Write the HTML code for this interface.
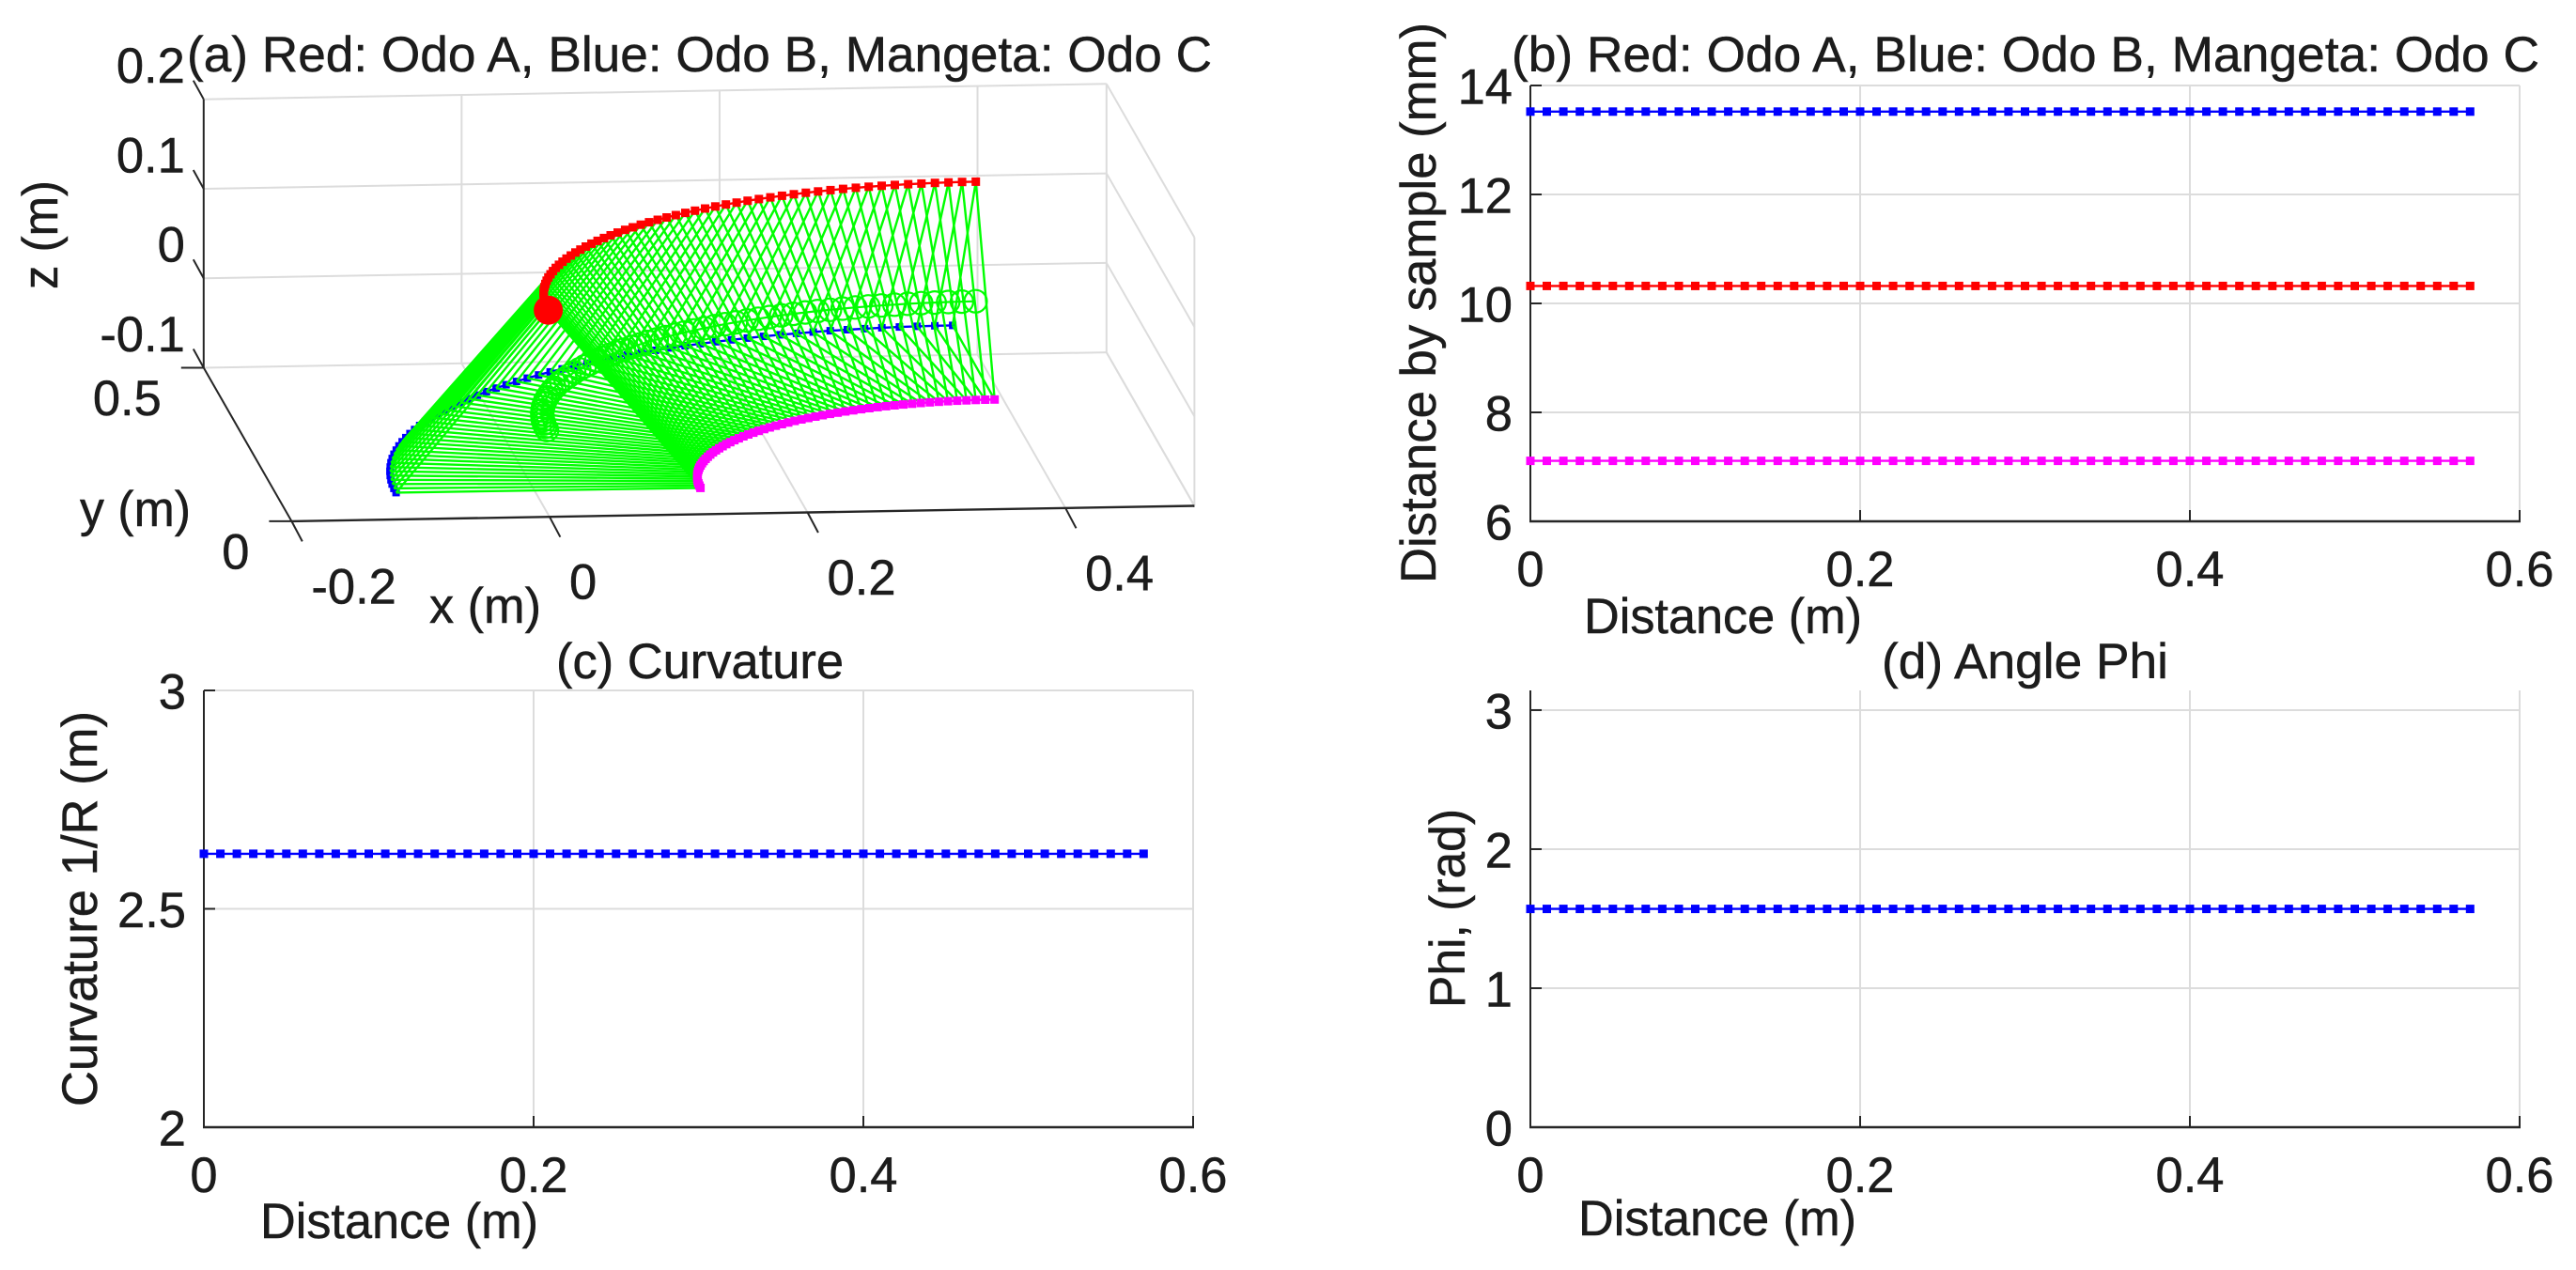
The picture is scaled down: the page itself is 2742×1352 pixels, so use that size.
<!DOCTYPE html>
<html lang="en">
<head>
<meta charset="utf-8">
<title>Odometer trajectory figure</title>
<style>
html,body{margin:0;padding:0;background:#fff;width:2742px;height:1352px;overflow:hidden}
svg{display:block}
text{font-family:"Liberation Sans",Arial,sans-serif;font-size:52.5px;fill:#1c1c1c;stroke:#1c1c1c;stroke-width:0.5px}
</style>
</head>
<body>
<svg id="figure" xmlns="http://www.w3.org/2000/svg" width="2742" height="1352" viewBox="0 0 2742 1352">
  <rect x="0" y="0" width="2742" height="1352" fill="#fff"/>
  <g id="panel-a"></g>
  <g id="panel-b"></g>
  <g id="panel-c"></g>
  <g id="panel-d"></g>
  <g>
    <text x="199" y="76" textLength="1091" lengthAdjust="spacingAndGlyphs">(a) Red: Odo A, Blue: Odo B, Mangeta: Odo C</text>
    <text x="457" y="663" textLength="119" lengthAdjust="spacingAndGlyphs">x (m)</text>
    <text x="85" y="560" textLength="118" lengthAdjust="spacingAndGlyphs">y (m)</text>
    <text transform="translate(61,308) rotate(-90)" textLength="116" lengthAdjust="spacingAndGlyphs">z (m)</text>
    <text x="1609" y="76" textLength="1094" lengthAdjust="spacingAndGlyphs">(b) Red: Odo A, Blue: Odo B, Mangeta: Odo C</text>
    <text x="1686" y="674" textLength="296" lengthAdjust="spacingAndGlyphs">Distance (m)</text>
    <text transform="translate(1528,621) rotate(-90)" textLength="597" lengthAdjust="spacingAndGlyphs">Distance by sample (mm)</text>
    <text x="592" y="722" textLength="306" lengthAdjust="spacingAndGlyphs">(c) Curvature</text>
    <text x="277" y="1318" textLength="296" lengthAdjust="spacingAndGlyphs">Distance (m)</text>
    <text transform="translate(103,1178) rotate(-90)" textLength="421" lengthAdjust="spacingAndGlyphs">Curvature 1/R (m)</text>
    <text x="2003" y="722" textLength="305" lengthAdjust="spacingAndGlyphs">(d) Angle Phi</text>
    <text x="1680" y="1315" textLength="296" lengthAdjust="spacingAndGlyphs">Distance (m)</text>
    <text transform="translate(1559,1073) rotate(-90)" textLength="212" lengthAdjust="spacingAndGlyphs">Phi, (rad)</text>
  </g>
</svg>
<script>
/* ---------- chart data ---------- */
const distance = [0,0.01,0.02,0.03,0.04,0.05,0.06,0.07,0.08,0.09,0.1,0.11,0.12,0.13,0.14,0.15,0.16,0.17,0.18,0.19,0.2,0.21,0.22,0.23,0.24,0.25,0.26,0.27,0.28,0.29,0.3,0.31,0.32,0.33,0.34,0.35,0.36,0.37,0.38,0.39,0.4,0.41,0.42,0.43,0.44,0.45,0.46,0.47,0.48,0.49,0.5,0.51,0.52,0.53,0.54,0.55,0.56,0.57];
const odoABySample = [10.32,10.32,10.32,10.32,10.32,10.32,10.32,10.32,10.32,10.32,10.32,10.32,10.32,10.32,10.32,10.32,10.32,10.32,10.32,10.32,10.32,10.32,10.32,10.32,10.32,10.32,10.32,10.32,10.32,10.32,10.32,10.32,10.32,10.32,10.32,10.32,10.32,10.32,10.32,10.32,10.32,10.32,10.32,10.32,10.32,10.32,10.32,10.32,10.32,10.32,10.32,10.32,10.32,10.32,10.32,10.32,10.32,10.32];
const odoBBySample = [13.52,13.52,13.52,13.52,13.52,13.52,13.52,13.52,13.52,13.52,13.52,13.52,13.52,13.52,13.52,13.52,13.52,13.52,13.52,13.52,13.52,13.52,13.52,13.52,13.52,13.52,13.52,13.52,13.52,13.52,13.52,13.52,13.52,13.52,13.52,13.52,13.52,13.52,13.52,13.52,13.52,13.52,13.52,13.52,13.52,13.52,13.52,13.52,13.52,13.52,13.52,13.52,13.52,13.52,13.52,13.52,13.52,13.52];
const odoCBySample = [7.11,7.11,7.11,7.11,7.11,7.11,7.11,7.11,7.11,7.11,7.11,7.11,7.11,7.11,7.11,7.11,7.11,7.11,7.11,7.11,7.11,7.11,7.11,7.11,7.11,7.11,7.11,7.11,7.11,7.11,7.11,7.11,7.11,7.11,7.11,7.11,7.11,7.11,7.11,7.11,7.11,7.11,7.11,7.11,7.11,7.11,7.11,7.11,7.11,7.11,7.11,7.11,7.11,7.11,7.11,7.11,7.11,7.11];
const curvature = [2.626,2.626,2.626,2.626,2.626,2.626,2.626,2.626,2.626,2.626,2.626,2.626,2.626,2.626,2.626,2.626,2.626,2.626,2.626,2.626,2.626,2.626,2.626,2.626,2.626,2.626,2.626,2.626,2.626,2.626,2.626,2.626,2.626,2.626,2.626,2.626,2.626,2.626,2.626,2.626,2.626,2.626,2.626,2.626,2.626,2.626,2.626,2.626,2.626,2.626,2.626,2.626,2.626,2.626,2.626,2.626,2.626,2.626];
const phi = [1.57,1.57,1.57,1.57,1.57,1.57,1.57,1.57,1.57,1.57,1.57,1.57,1.57,1.57,1.57,1.57,1.57,1.57,1.57,1.57,1.57,1.57,1.57,1.57,1.57,1.57,1.57,1.57,1.57,1.57,1.57,1.57,1.57,1.57,1.57,1.57,1.57,1.57,1.57,1.57,1.57,1.57,1.57,1.57,1.57,1.57,1.57,1.57,1.57,1.57,1.57,1.57,1.57,1.57,1.57,1.57,1.57,1.57];
const xTicks2d = [0,0.2,0.4,0.6];
const xTickLabels2d = ["0","0.2","0.4","0.6"];
const yTicksB = [6,8,10,12,14];
const yTickLabelsB = ["6","8","10","12","14"];
const yTicksC = [2,2.5,3];
const yTickLabelsC = ["2","2.5","3"];
const yTicksD = [0,1,2,3];
const yTickLabelsD = ["0","1","2","3"];

/* 3D trajectory: arc angle of each sample, and each track's centre / radius / height */
const arcAngle = [0,0.0273,0.0546,0.0818,0.1091,0.1364,0.1637,0.191,0.2182,0.2455,0.2728,0.3001,0.3274,0.3546,0.3819,0.4092,0.4365,0.4638,0.491,0.5183,0.5456,0.5729,0.6002,0.6274,0.6547,0.682,0.7093,0.7366,0.7638,0.7911,0.8184,0.8457,0.873,0.9002,0.9275,0.9548,0.9821,1.0094,1.0366,1.0639,1.0912,1.1185,1.1458,1.173,1.2003,1.2276,1.2549,1.2822,1.3094,1.3367,1.364,1.3913,1.4186,1.4458,1.4731,1.5004,1.5277,1.555];
const arcCentreX = 0.39;
const odoCCentreX = 0.386;
const odoARadius = 0.391;
const odoBRadius = 0.509;
const odoCRadius = 0.269;
const centreRadius = 0.392;
const odoAHeight = 0.131;
const odoBHeight = -0.07;
const odoCHeight = -0.0705;
const centreHeight = -0.003;
const xTicks3d = [-0.2,0,0.2,0.4];
const xTickLabels3d = ["-0.2","0","0.2","0.4"];
const yTicks3d = [0,0.5];
const yTickLabels3d = ["0","0.5"];
const zTicks3d = [-0.1,0,0.1,0.2];
const zTickLabels3d = ["-0.1","0","0.1","0.2"];

/* ---------- helpers ---------- */
const NS = "http://www.w3.org/2000/svg";
const GRID = "#dcdcdc", AXIS = "#262626";
function mk(parent, tag) { const e = document.createElementNS(NS, tag); parent.appendChild(e); return e; }
function seg(parent, x1, y1, x2, y2, color, w) {
  const l = mk(parent, "line");
  l.setAttribute("x1", x1); l.setAttribute("y1", y1);
  l.setAttribute("x2", x2); l.setAttribute("y2", y2);
  l.setAttribute("stroke", color); l.setAttribute("stroke-width", w);
  return l;
}
function lbl(parent, x, y, anchor, str) {
  const t = mk(parent, "text");
  t.setAttribute("x", x); t.setAttribute("y", y);
  t.setAttribute("text-anchor", anchor);
  t.textContent = str;
  return t;
}
function poly(parent, pts, color, w) {
  const p = mk(parent, "polyline");
  p.setAttribute("points", pts.map(q => q[0].toFixed(1) + "," + q[1].toFixed(1)).join(" "));
  p.setAttribute("fill", "none");
  p.setAttribute("stroke", color); p.setAttribute("stroke-width", w);
  return p;
}
function square(parent, x, y, s, color) {
  const r = mk(parent, "rect");
  r.setAttribute("x", (x - s / 2).toFixed(1)); r.setAttribute("y", (y - s / 2).toFixed(1));
  r.setAttribute("width", s); r.setAttribute("height", s);
  r.setAttribute("fill", color);
  return r;
}

/* ---------- 2D panels ---------- */
function drawPanel(group, L, R, T, B, yMin, yMax, yTicks, yLabels, series, gridTop) {
  const sx = v => L + (v / 0.6) * (R - L);
  const sy = v => B - ((v - yMin) / (yMax - yMin)) * (B - T);
  if (gridTop) {
    const g = seg(group, L, T, R, T, GRID, 2);
    
    
  }
  yTicks.forEach((v, i) => {
    if (i > 0 && v < yMax) {
      const g = seg(group, L, sy(v), R, sy(v), GRID, 2);
      
      
    }
    const t = seg(group, L, sy(v), L + 12, sy(v), AXIS, 2);
    
    
    const s = lbl(group, L - 19, sy(v) + 19.5, "end", yLabels[i]);
    
    
  });
  xTicks2d.forEach((v, i) => {
    if (i > 0) {
      const g = seg(group, sx(v), T, sx(v), B, GRID, 2);
      
      
      const t = seg(group, sx(v), B, sx(v), B - 12, AXIS, 2);
      
      
    }
    const s = lbl(group, sx(v), B + 69, "middle", xTickLabels2d[i]);
    
    
  });
  const ls = seg(group, L, T, L, B + 1, AXIS, 2);
  
  
  const bs = seg(group, L - 1, B, R + 1, B, AXIS, 2.6);
  
  
  series.forEach(se => {
    const pts = distance.map((d, i) => [sx(d), sy(se.values[i])]);
    const line = poly(group, pts, se.color, 2.4);
    
    
    pts.forEach(q => {
      const m = square(group, q[0], q[1], 9, se.color);
      
      
    });
  });
}
drawPanel(document.getElementById("panel-b"), 1629, 2682, 91, 555, 6, 14, yTicksB, yTickLabelsB, [
  {name: "odo-b-sample-distance", color: "#0000ff", values: odoBBySample},
  {name: "odo-a-sample-distance", color: "#ff0000", values: odoABySample},
  {name: "odo-c-sample-distance", color: "#ff00ff", values: odoCBySample}
], true);
drawPanel(document.getElementById("panel-c"), 217, 1270, 735, 1200, 2, 3, yTicksC, yTickLabelsC, [
  {name: "curvature", color: "#0000ff", values: curvature}
], true);
drawPanel(document.getElementById("panel-d"), 1629, 2682, 735, 1200, 0, 3.1416, yTicksD, yTickLabelsD, [
  {name: "phi", color: "#0000ff", values: phi}
], false);

/* ---------- 3D panel ---------- */
const pa = document.getElementById("panel-a");
const projX = (x, y) => 310.4 + ((x + 0.2) / 0.7) * 961 - (y / 0.5) * 93.6;
const projY = (x, y, z) => 554.9 - ((x + 0.2) / 0.7) * 16.4 - (y / 0.5) * 163.4 - ((z + 0.1) / 0.3) * 285.8;
const P = (x, y, z) => [projX(x, y), projY(x, y, z)];
function wall(a, b, color, w, name) {
  const p = P(a[0], a[1], a[2]), q = P(b[0], b[1], b[2]);
  const l = seg(pa, p[0], p[1], q[0], q[1], color, w);
  
  
}
/* box edges and grids */
zTicks3d.forEach(z => {
  wall([-0.2, 0.5, z], [0.5, 0.5, z], GRID, 2, 'back-wall-z-gridline');
  wall([0.5, 0.5, z], [0.5, 0, z], GRID, 2, 'side-wall-z-gridline');
});
xTicks3d.forEach(x => {
  if (x > -0.2) {
    wall([x, 0.5, -0.1], [x, 0.5, 0.2], GRID, 2, 'back-wall-x-gridline');
    wall([x, 0.5, -0.1], [x, 0, -0.1], GRID, 2, 'floor-x-gridline');
  }
});
wall([0.5, 0.5, -0.1], [0.5, 0.5, 0.2], GRID, 2, 'back-right-edge');
wall([0.5, 0.5, -0.1], [0.5, 0, -0.1], GRID, 2, 'floor-right-edge');
wall([0.5, 0, -0.1], [0.5, 0, 0.2], GRID, 2, 'front-right-edge');
wall([-0.2, 0.5, -0.1], [-0.2, 0.5, 0.2], AXIS, 2, 'z-axis-line');
wall([-0.2, 0.5, -0.1], [-0.2, 0, -0.1], AXIS, 2, 'y-axis-line');
wall([-0.2, 0, -0.1], [0.5, 0, -0.1], AXIS, 2.4, 'x-axis-line');
/* ticks and labels */
xTicks3d.forEach((x, i) => {
  const p = P(x, 0, -0.1);
  const t = seg(pa, p[0], p[1], p[0] + 11.4, p[1] + 21.5, AXIS, 2);
  
  
  const s = lbl(pa, p[0] + 21, p[1] + 87.5, "start", xTickLabels3d[i]);
  
  
});
yTicks3d.forEach((y, i) => {
  const p = P(-0.2, y, -0.1);
  const t = seg(pa, p[0], p[1], p[0] - 24, p[1], AXIS, 2);
  
  
  const s = lbl(pa, p[0] - 45, p[1] + 50.5, "end", yTickLabels3d[i]);
  
  
});
zTicks3d.forEach((z, i) => {
  const p = P(-0.2, 0.5, z);
  const t = seg(pa, p[0], p[1], p[0] - 11, p[1] - 20, AXIS, 2);
  
  
  const s = lbl(pa, p[0] - 20, p[1] - 17.5, "end", zTickLabels3d[i]);
  
  
});
/* tracks */
const track = (cx, r, h) => arcAngle.map(a => P(cx - r * Math.cos(a), r * Math.sin(a), h));
const trackA = track(arcCentreX, odoARadius, odoAHeight);
const trackB = track(arcCentreX, odoBRadius, odoBHeight);
const trackC = track(odoCCentreX, odoCRadius, odoCHeight);
const trackM = track(arcCentreX, centreRadius, centreHeight);

const lineB = poly(pa, trackB, "#0000ff", 2.4);


trackB.forEach(q => {
  const m = square(pa, q[0], q[1], 8, "#0000ff");
  
  
});
trackA.forEach((a, i) => {
  const b = trackB[i], c = trackC[i];
  const ab = seg(pa, a[0], a[1], b[0], b[1], "#00ff00", 2.4);
  
  
  const ac = seg(pa, a[0], a[1], c[0], c[1], "#00ff00", 2.4);
  
  
  const bc = seg(pa, b[0], b[1], c[0], c[1], "#00ff00", 2.4);
  
  
});
const lineM = poly(pa, trackM, "#00ff00", 2.2);


trackM.forEach(q => {
  const c = mk(pa, "circle");
  c.setAttribute("cx", q[0].toFixed(1)); c.setAttribute("cy", q[1].toFixed(1));
  c.setAttribute("r", 12); c.setAttribute("fill", "none");
  c.setAttribute("stroke", "#00ff00"); c.setAttribute("stroke-width", 2.2);
  
  
});
const lineC = poly(pa, trackC, "#ff00ff", 2.4);


trackC.forEach(q => {
  const m = square(pa, q[0], q[1], 9, "#ff00ff");
  
  
});
const lineA = poly(pa, trackA, "#ff0000", 2.4);


trackA.forEach(q => {
  const m = square(pa, q[0], q[1], 9, "#ff0000");
  
  
});
const startDot = mk(pa, "circle");
startDot.setAttribute("cx", trackA[0][0].toFixed(1));
startDot.setAttribute("cy", trackA[0][1].toFixed(1));
startDot.setAttribute("r", 15.5);
startDot.setAttribute("fill", "#ff0000");


</script>
</body>
</html>
